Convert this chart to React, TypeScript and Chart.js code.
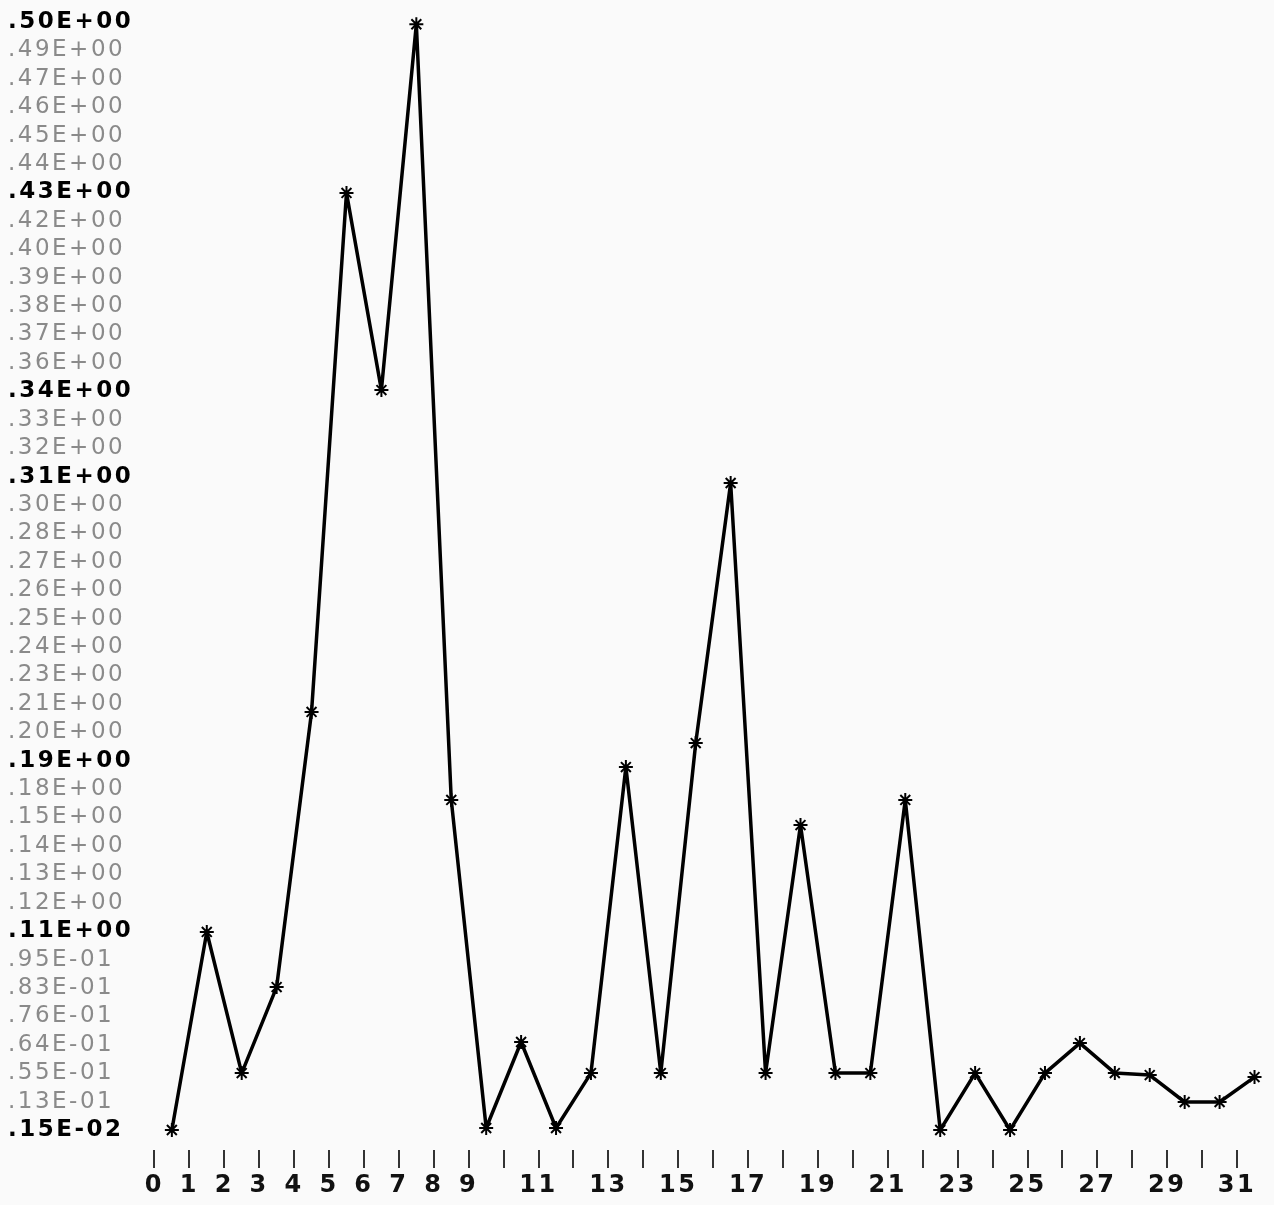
import React, { useEffect, useRef } from 'react';
import { Chart, registerables } from 'chart.js';

Chart.register(...registerables);

// Y tick labels, top to bottom (as printed on the original plot)
const yTickLabels = [
  '.50E+00', '.49E+00', '.47E+00', '.46E+00', '.45E+00', '.44E+00', '.43E+00', '.42E+00',
  '.40E+00', '.39E+00', '.38E+00', '.37E+00', '.36E+00', '.34E+00', '.33E+00', '.32E+00',
  '.31E+00', '.30E+00', '.28E+00', '.27E+00', '.26E+00', '.25E+00', '.24E+00', '.23E+00',
  '.21E+00', '.20E+00', '.19E+00', '.18E+00', '.15E+00', '.14E+00', '.13E+00', '.12E+00',
  '.11E+00', '.95E-01', '.83E-01', '.76E-01', '.64E-01', '.55E-01', '.13E-01', '.15E-02',
];
const emphasizedLabels = ['.50E+00', '.43E+00', '.34E+00', '.31E+00', '.19E+00', '.11E+00', '.15E-02'];
const yTop = 0.5;
const yBottom = 0.0015;

// X tick labels (bin edges 0..31)
const xTickLabels = [
  '0', '1', '2', '3', '4', '5', '6', '7', '8', '9', '', '11', '', '13', '', '15',
  '', '17', '', '19', '', '21', '', '23', '', '25', '', '27', '', '29', '', '31',
];

// Series values, one per bin (plotted at bin centre)
const values = [
  0.0015, 0.0906, 0.0271, 0.0658, 0.1896, 0.4231, 0.3344, 0.499,
  0.150, 0.0024, 0.0411, 0.0024, 0.0271, 0.1648, 0.0271, 0.1756,
  0.2926, 0.0271, 0.1387, 0.0271, 0.0271, 0.150, 0.0015, 0.0271,
  0.0015, 0.0271, 0.0406, 0.0271, 0.0262, 0.0141, 0.0141, 0.0253,
];

const letterSpacingPlugin = {
  id: 'letterSpacing',
  beforeUpdate(chart: any) {
    (chart.ctx as any).letterSpacing = '2.5px';
  },
  beforeDraw(chart: any) {
    (chart.ctx as any).letterSpacing = '2.5px';
  },
};

export default function App() {
  const canvasRef = useRef<HTMLCanvasElement | null>(null);

  useEffect(() => {
    document.body.style.margin = '0';
    document.body.style.background = '#fafafa';
    const canvas = canvasRef.current;
    if (!canvas) return;

    const yStep = (yTop - yBottom) / (yTickLabels.length - 1);
    const pxPerUnitApprox = 1108 / (yTop - yBottom);
    const yMin = yBottom - 20 / pxPerUnitApprox;

    const chart = new Chart(canvas, {
      type: 'line',
      data: {
        datasets: [
          {
            data: values.map((v, i) => ({ x: i + 0.5, y: v })),
            borderColor: '#000',
            borderWidth: 3.5,
            borderJoinStyle: 'round',
            borderCapStyle: 'round',
            pointStyle: 'star',
            pointRadius: 7,
            pointBorderWidth: 2,
            pointBorderColor: '#000',
            pointBackgroundColor: '#000',
            tension: 0,
            clip: false as any,
          },
        ],
      },
      plugins: [letterSpacingPlugin],
      options: {
        responsive: false,
        animation: false,
        layout: { padding: { top: 22, bottom: 0, left: 8, right: 0 } },
        plugins: {
          legend: { display: false },
          tooltip: { enabled: false },
        },
        scales: {
          x: {
            type: 'linear',
            min: 0,
            max: 31.8,
            afterBuildTicks: (scale: any) => {
              scale.ticks = xTickLabels.map((_, i) => ({ value: i }));
            },
            afterFit: (scale: any) => {
              scale.height = 55;
            },
            border: { display: false },
            grid: {
              display: true,
              drawOnChartArea: false,
              drawTicks: true,
              tickLength: 18,
              color: '#333',
              lineWidth: 2,
            },
            ticks: {
              autoSkip: false,
              maxRotation: 0,
              padding: 3,
              color: '#111',
              font: { family: 'DejaVu Sans', size: 24, weight: 'bold' },
              callback: (_v: any, index: number) => xTickLabels[index],
            },
          },
          y: {
            type: 'linear',
            min: yMin,
            max: yTop,
            afterBuildTicks: (scale: any) => {
              scale.ticks = yTickLabels.map((_, i) => ({ value: yBottom + i * yStep }));
            },
            afterFit: (scale: any) => {
              scale.width = 146.4;
            },
            border: { display: false },
            grid: { display: false },
            ticks: {
              autoSkip: false,
              crossAlign: 'far',
              padding: 0,
              callback: (_v: any, index: number) => yTickLabels[yTickLabels.length - 1 - index],
              font: (ctx: any) => {
                const label = yTickLabels[yTickLabels.length - 1 - ctx.index];
                const strong = emphasizedLabels.includes(label);
                return { family: 'DejaVu Sans', size: 23, weight: strong ? 'bold' : 'normal' };
              },
              color: (ctx: any) => {
                const label = yTickLabels[yTickLabels.length - 1 - ctx.index];
                return emphasizedLabels.includes(label) ? '#000' : '#8a8a8a';
              },
            },
          },
        },
      },
    });

    return () => chart.destroy();
  }, []);

  return (
    <div style={{ width: 1274, height: 1205 }}>
      <canvas ref={canvasRef} width={1274} height={1205} style={{ display: 'block' }} />
    </div>
  );
}
